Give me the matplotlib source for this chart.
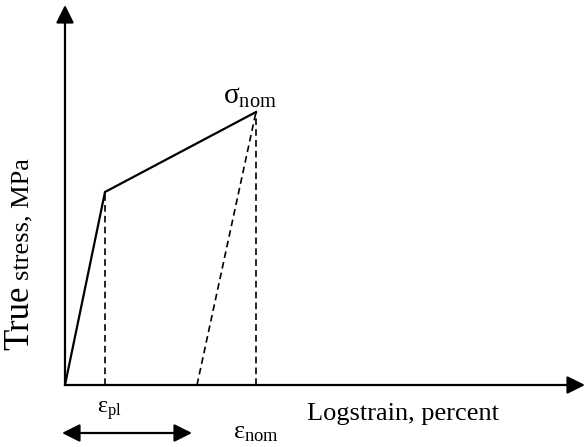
import matplotlib
matplotlib.use('Agg')
import matplotlib.pyplot as plt

# Schematic data (arbitrary units)
strain_curve = [0.0, 4.0, 19.1]      # origin, yield point, peak (nominal)
stress_curve = [0.0, 193.0, 273.0]
strain_unload = 13.2                 # residual strain after elastic unloading
strain_axis_max = 52.0
stress_axis_max = 380.0
strain_pl_arrow = [-0.3, 12.7]       # double arrow extent

plt.rcParams['font.family'] = ['Liberation Serif', 'DejaVu Serif']
plt.rcParams['mathtext.fontset'] = 'custom'
plt.rcParams['mathtext.rm'] = 'Liberation Serif'
plt.rcParams['mathtext.it'] = 'Liberation Serif'

fig = plt.figure(figsize=(5.87, 4.47), dpi=100)
ax = fig.add_axes([0, 0, 1, 1])
ax.set_xlim(-6.5, 52.2)
ax.set_ylim(-62, 385)
ax.axis('off')

head = '-|>,head_length=1.08,head_width=0.54'
# axes with arrows
ax.annotate('', xy=(0, stress_axis_max), xytext=(0, 0),
            arrowprops=dict(arrowstyle=head, mutation_scale=10, lw=1.6,
                            color='black', shrinkA=0, shrinkB=0))
ax.annotate('', xy=(strain_axis_max, 0), xytext=(0, 0),
            arrowprops=dict(arrowstyle=head, mutation_scale=10, lw=1.6,
                            color='black', shrinkA=0, shrinkB=0))

# stress-strain curve
ax.plot(strain_curve, stress_curve, color='black', lw=1.6, solid_joinstyle='miter')

dash = (0, (4, 2.5))
ax.plot([strain_curve[1], strain_curve[1]], [0, stress_curve[1]], color='black', lw=1.2, linestyle=dash)
ax.plot([strain_curve[2], strain_curve[2]], [0, stress_curve[2]], color='black', lw=1.2, linestyle=dash)
ax.plot([strain_unload, strain_curve[2]], [0, stress_curve[2]], color='black', lw=1.2, linestyle=dash)

# plastic strain double arrow
ax.annotate('', xy=(strain_pl_arrow[1], -48), xytext=(strain_pl_arrow[0], -48),
            arrowprops=dict(arrowstyle='<|-|>,head_length=1.08,head_width=0.54', mutation_scale=10,
                            lw=1.6, color='black', shrinkA=0, shrinkB=0))

# labels
ax.text(15.8, 281, r'$\mathrm{σ}_{\mathrm{nom}}$', fontsize=21, ha='left', va='baseline')
ax.text(3.2, -28, r'$\mathrm{ε}_{\mathrm{pl}}$', fontsize=17, ha='left', va='baseline')
ax.text(16.8, -53, r'$\mathrm{ε}_{\mathrm{nom}}$', fontsize=19, ha='left', va='baseline')
ax.text(24.2, -35, 'Logstrain, percent', fontsize=19, ha='left', va='baseline')
ax.text(-3.7, 35, 'True', fontsize=25, rotation=90, rotation_mode='anchor', ha='left', va='baseline')
ax.text(-3.7, 105, 'stress, MPa', fontsize=19, rotation=90, rotation_mode='anchor', ha='left', va='baseline')

fig.savefig('out.png', dpi=100)
